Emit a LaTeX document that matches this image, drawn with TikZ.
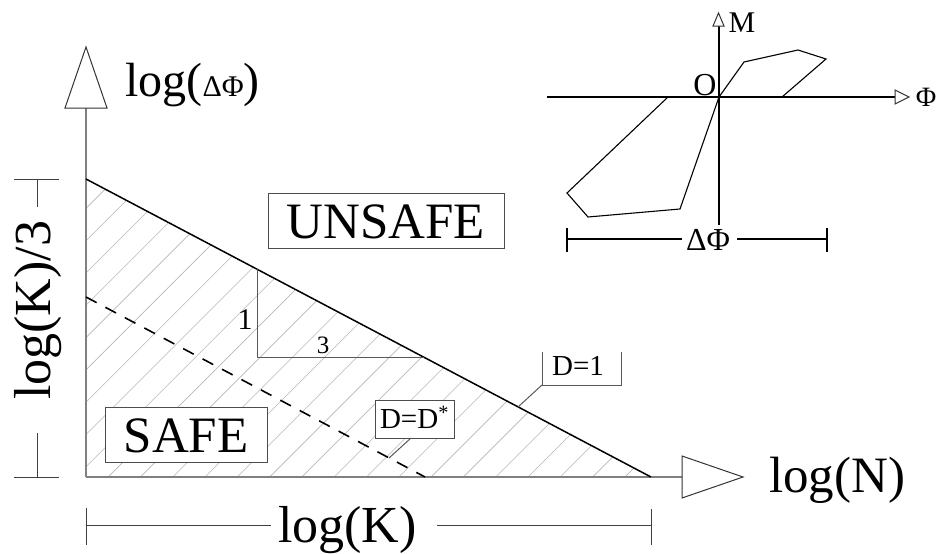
\documentclass[tikz,border=0pt]{standalone}
\usepackage{fontspec}
\setmainfont{Liberation Serif}
\newcommand\myfs[1]{\fontsize{#1}{#1}\selectfont}
\begin{document}
\begin{tikzpicture}[x=1pt,y=-1pt,
  axisline/.style={draw=black!50, line width=1.3pt},
  dimline/.style={draw=black!75, line width=1pt},
  mainline/.style={draw=black, line width=1.5pt},
  dashline/.style={draw=black, line width=1.6pt, dash pattern=on 12pt off 10pt},
  hatchline/.style={draw=black!28, line width=0.6pt},
  thinline/.style={draw=black!65, line width=1pt},
  hystline/.style={draw=black, line width=1.1pt, line join=miter},
  openarrow/.style={draw=black!80, fill=white, line width=1pt, line join=miter},
  boxnode/.style={draw=black!70, line width=1pt, fill=white, inner sep=0pt},
  txt/.style={inner sep=0pt},
]
\useasboundingbox (0,0) rectangle (938,554);
\fill[white] (0,0) rectangle (938,554);

% ---- main diagram coordinates
\coordinate (O) at (86,477);
\coordinate (Ytop) at (86,108);
\coordinate (Xend) at (682,477);
\coordinate (Dtop) at (86,179);
\coordinate (Dbot) at (651,477);
\coordinate (Stop) at (86,297);
\coordinate (Sbot) at (425,477);
\coordinate (Ta) at (257,269.2);
\coordinate (Tb) at (257,357);
\coordinate (Tc) at (423.5,357);

% hatching
\begin{scope}
  \clip (Dtop) -- (Dbot) -- (O) -- cycle;
  \foreach \k in {-23,...,3} \draw[hatchline] ({528+32.3*\k},477) -- ++(330,-330);
\end{scope}

% axes
\draw[axisline] (O) -- (Ytop);
\draw[axisline] (O) -- (Xend);
\draw[openarrow] (65,108) -- (107,108) -- (86,47) -- cycle;
\draw[openarrow] (682,456) -- (682,498) -- (743,477) -- cycle;

% D=1 line, dashed line, slope triangle
\draw[mainline] (Dtop) -- (Dbot);
\draw[dashline] (Stop) -- (Sbot);
\draw[thinline] (Ta) -- (Tb) -- (Tc);
\node[txt] (one) at (245,320) {\myfs{30}1};
\node[txt] (three) at (323,345) {\myfs{25}3};

% axis labels
\node[txt, anchor=base west] (ylab) at (125,96) {\myfs{48}log(\myfs{30}ΔΦ\myfs{48})};
\node[txt, anchor=base west] (xlab) at (769,492) {\myfs{51}log(N)};

% boxes
\node[boxnode, minimum width=236pt, minimum height=55pt, text height=34pt, text depth=0pt] (unsafe) at (386,221) {\myfs{51}UNSAFE};
\node[boxnode, minimum width=162pt, minimum height=55pt, text height=34pt, text depth=0pt] (safe) at (186,435) {\myfs{51}SAFE};
\node[boxnode, minimum width=79pt, minimum height=38pt, text height=19pt, text depth=0pt] (dstar) at (414.5,419) {\myfs{29}D=D\textsuperscript{*}};

% D=1 label with open bracket
\node[txt, text height=20pt, text depth=0pt] (done) at (578,365) {\myfs{29}D=1};
\coordinate (b1) at (542,352);
\coordinate (b2) at (542,385);
\coordinate (b3) at (621,385);
\coordinate (b4) at (621,352);
\coordinate (l1) at (518,407);
\draw[thinline] (b1) -- (b2) -- (b3) -- (b4);
\draw[thinline] (b2) -- (l1);
\coordinate (l2a) at (411,438);
\coordinate (l2b) at (389,458);
\draw[thinline] (l2a) -- (l2b);

% left dimension log(K)/3
\coordinate (vd1) at (37,179);
\coordinate (vd2) at (37,207);
\coordinate (vd3) at (37,433);
\coordinate (vd4) at (37,477);
\draw[dimline] (14,179) -- (59,179);
\draw[dimline] (14,477) -- (59,477);
\draw[dimline] (vd1) -- (vd2);
\draw[dimline] (vd3) -- (vd4);
\node[txt, rotate=90, anchor=base west] (klab3) at (50,400) {\myfs{52}log(K)/3};

% bottom dimension log(K)
\coordinate (hd1) at (86,525);
\coordinate (hd2) at (271,525);
\coordinate (hd3) at (437,525);
\coordinate (hd4) at (651,525);
\draw[dimline] (86,508) -- (86,545);
\draw[dimline] (651,509) -- (651,545);
\draw[dimline] (hd1) -- (hd2);
\draw[dimline] (hd3) -- (hd4);
\node[txt, anchor=base west] (klab) at (278,542) {\myfs{52}log(K)};

% ---- hysteresis inset
\coordinate (hO) at (719,97);
\coordinate (hL) at (547,97);
\coordinate (hR) at (895,97);
\coordinate (hB) at (719,225);
\coordinate (hT) at (719,26);
\draw[hystline] (hL) -- (hR);
\draw[hystline] (hB) -- (hT);
\draw[openarrow] (713,26) -- (724,26) -- (718.5,13) -- cycle;
\draw[openarrow] (895,90) -- (895,104) -- (909,97) -- cycle;
\node[txt] (Mlab) at (742,23) {\myfs{30}M};
\node[txt] (Olab) at (705,85) {\myfs{32}O};
\node[txt] (Philab) at (926,97) {\myfs{28}Φ};
\draw[hystline] (668,97) -- (567,193) -- (588,217) -- (680,209) -- (hO)
  -- (744,62) -- (798,50) -- (826,59) -- (782,97);

% ΔΦ dimension
\coordinate (pd1) at (567,239);
\coordinate (pd2) at (682,239);
\coordinate (pd3) at (737,239);
\coordinate (pd4) at (827,239);
\draw[hystline] (567,228) -- (567,252);
\draw[hystline] (827,228) -- (827,252);
\draw[hystline] (pd1) -- (pd2);
\draw[hystline] (pd3) -- (pd4);
\node[txt] (dphi) at (708,240) {\myfs{32}ΔΦ};
\end{tikzpicture}
\end{document}
